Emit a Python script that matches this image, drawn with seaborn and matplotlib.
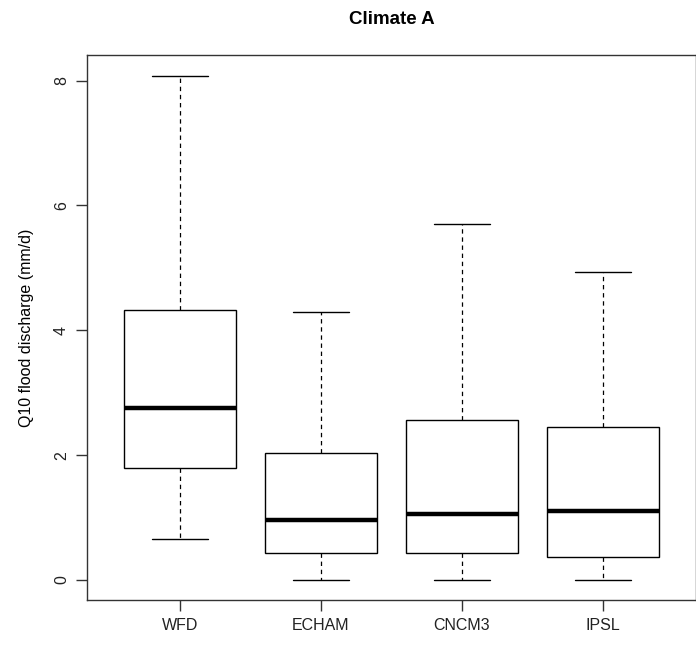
import numpy as np
import pandas as pd
import matplotlib
matplotlib.use("Agg")
import matplotlib.pyplot as plt
import seaborn as sns

# five-number summaries (mm/d)
models = ["WFD", "ECHAM", "CNCM3", "IPSL"]
whisker_low = [0.66, 0.0, 0.0, 0.0]
q1 = [1.79, 0.44, 0.44, 0.37]
median = [2.76, 0.96, 1.06, 1.10]
q3 = [4.33, 2.03, 2.56, 2.45]
whisker_high = [8.07, 4.30, 5.70, 4.93]


def build_frame():
    # 5 points per group -> numpy percentiles land exactly on q1/median/q3
    rows = []
    for i, m in enumerate(models):
        for v in (whisker_low[i], q1[i], median[i], q3[i], whisker_high[i]):
            rows.append({"model": m, "value": v})
    return pd.DataFrame(rows)


def main():
    sns.set_style("white")
    plt.rcParams["font.family"] = ["Liberation Sans", "DejaVu Sans"]
    plt.rcParams["text.color"] = "black"
    plt.rcParams["axes.labelcolor"] = "black"
    plt.rcParams["xtick.color"] = "black"
    plt.rcParams["ytick.color"] = "black"

    df = build_frame()

    fig = plt.figure(figsize=(6.96, 6.45), dpi=100)
    ax = fig.add_axes([0.125, 0.0698, 0.875, 0.845])

    sns.boxplot(
        data=df, x="model", y="value", order=models,
        whis=np.inf, width=0.8, color="white", saturation=1,
        linecolor="black", linewidth=1.0,
        medianprops={"linewidth": 3.2, "color": "black", "solid_capstyle": "butt"},
        whiskerprops={"linestyle": (0, (3.5, 3)), "linewidth": 0.9},
        capprops={"linewidth": 1.0},
        ax=ax,
    )

    ax.set_xlim(-0.66, 3.66)
    ax.set_ylim(-0.32, 8.41)
    ax.set_yticks([0, 2, 4, 6, 8])
    ax.set_xlabel("")
    ax.set_ylabel("Q10 flood discharge (mm/d)", fontsize=11.5, labelpad=14)
    ax.set_title("Climate A", fontsize=13.5, fontweight="bold", pad=22,
                 color="black")

    ax.tick_params(axis="both", which="major", direction="out", length=8,
                   width=1, color="#333333", labelsize=11.5, pad=5,
                   left=True, bottom=True, labelcolor="#222222")
    for lbl in ax.get_yticklabels():
        lbl.set_rotation(90)
        lbl.set_va("center")

    for s in ax.spines.values():
        s.set_visible(True)
        s.set_color("#333333")
        s.set_linewidth(1.0)

    fig.savefig("out.png", dpi=100, facecolor="white")


if __name__ == "__main__":
    main()
